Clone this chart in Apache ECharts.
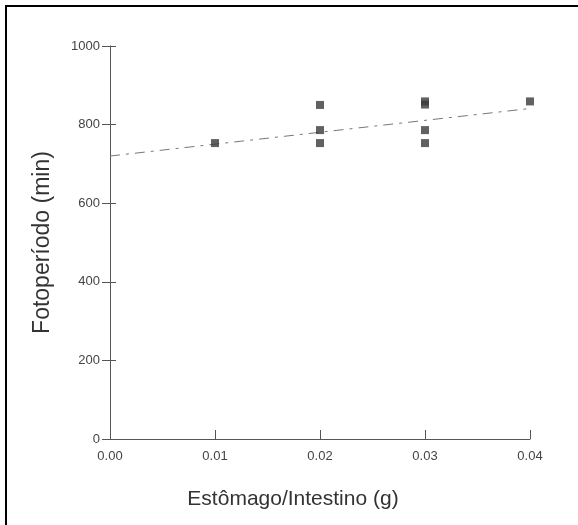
<!DOCTYPE html>
<html><head><meta charset="utf-8">
<script src="https://cdn.jsdelivr.net/npm/echarts@6/dist/echarts.min.js"></script>
<style>html,body{margin:0;padding:0;background:#fff}#c{width:578px;height:525px}</style>
</head><body><div id="c"></div>
<script>
const xTitle = 'Estômago/Intestino (g)';
const yTitle = 'Fotoperíodo (min)';
const pointsX = [0.01, 0.02, 0.02, 0.02, 0.03, 0.03, 0.03, 0.03, 0.04];
const pointsY = [753, 850, 786, 753, 859, 851, 786, 753, 859];
const trendX = [0, 0.04];
const trendY = [720, 841];
const xTicks = [0, 0.01, 0.02, 0.03, 0.04];
const yTicks = [0, 200, 400, 600, 800, 1000];

const scatterData = pointsX.map((x, i) => [x, pointsY[i]]);
const trendData = trendX.map((x, i) => [x, trendY[i]]);
const font = '"Liberation Sans", Arial, sans-serif';

const chart = echarts.init(document.getElementById('c'), null, {renderer: 'canvas'});
const grid = {left: 110, right: 48, top: 46, bottom: 86};
chart.setOption({
  animation: false,
  backgroundColor: '#fff',
  grid: [grid, grid],
  xAxis: [{
    type: 'value', gridIndex: 0, min: 0, max: 0.04, interval: 0.01,
    name: xTitle, nameLocation: 'middle', nameGap: 50,
    nameTextStyle: {fontFamily: font, fontSize: 21, color: '#333', padding: [0, 54, 0, 0]},
    axisLine: {lineStyle: {color: '#555', width: 1}},
    axisTick: {show: true, inside: true, length: 9, lineStyle: {color: '#555'}},
    axisLabel: {margin: 11, fontFamily: font, fontSize: 13, color: '#444',
      formatter: v => v.toFixed(2)},
    splitLine: {show: false}
  }, {
    type: 'value', gridIndex: 1, min: 0, max: 0.04, interval: 0.01,
    axisLine: {show: false}, axisLabel: {show: false}, splitLine: {show: false},
    axisTick: {show: false}
  }],
  yAxis: [{
    type: 'value', gridIndex: 0, min: 0, max: 1000, interval: 200,
    name: yTitle, nameLocation: 'middle', nameGap: 56, nameRotate: 90,
    nameTextStyle: {fontFamily: font, fontSize: 23, color: '#333'},
    axisLine: {show: true, lineStyle: {color: '#555', width: 1}},
    axisTick: {show: true, length: 8, lineStyle: {color: '#555'}},
    axisLabel: {margin: 10, fontFamily: font, fontSize: 13, color: '#444',
      formatter: v => String(v)},
    splitLine: {show: false}
  }, {
    type: 'value', gridIndex: 1, min: 0, max: 1000, interval: 200,
    axisLine: {show: false}, axisLabel: {show: false}, splitLine: {show: false},
    axisTick: {show: true, inside: true, length: 6, lineStyle: {color: '#555'}}
  }],
  series: [{
    type: 'line', xAxisIndex: 0, yAxisIndex: 0, data: trendData,
    showSymbol: false, symbol: 'none',
    lineStyle: {color: '#777', width: 1, type: [10, 6, 3, 6]}, z: 1
  }, {
    type: 'scatter', xAxisIndex: 0, yAxisIndex: 0, data: scatterData,
    symbol: 'rect', symbolSize: [8, 8],
    itemStyle: {color: '#3a3a3a'}, z: 3
  }],
  graphic: [{
    type: 'rect', shape: {x: 6, y: 6, width: 700, height: 700},
    style: {fill: 'none', stroke: '#000', lineWidth: 2}, silent: true
  }]
});
</script></body></html>
